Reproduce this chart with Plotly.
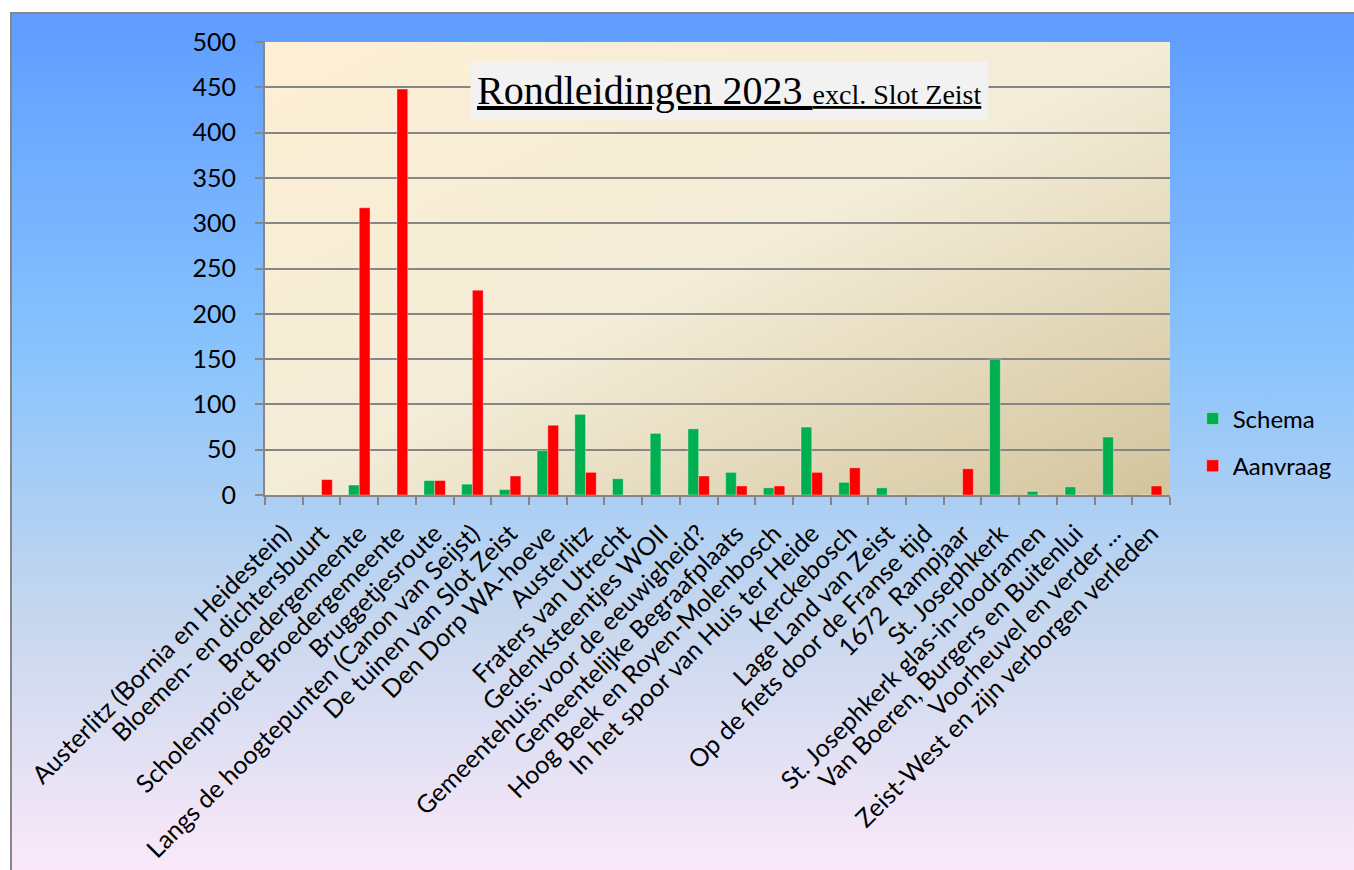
import base64
import plotly.graph_objects as go

categories = [
    "Austerlitz (Bornia en Heidestein)",
    "Bloemen- en dichtersbuurt",
    "Broedergemeente",
    "Scholenproject Broedergemeente",
    "Bruggetjesroute",
    "Langs de hoogtepunten (Canon van Seijst)",
    "De tuinen van Slot Zeist",
    "Den Dorp WA-hoeve",
    "Austerlitz",
    "Fraters van Utrecht",
    "Gedenksteentjes WOII",
    "Gemeentehuis: voor de eeuwigheid?",
    "Gemeentelijke Begraafplaats",
    "Hoog Beek en Royen-Molenbosch",
    "In het spoor van Huis ter Heide",
    "Kerckebosch",
    "Lage Land van Zeist",
    "Op de fiets door de Franse tijd",
    "1672  Rampjaar",
    "St. Josephkerk",
    "St. Josephkerk glas-in-loodramen",
    "Van Boeren, Burgers en Buitenlui",
    "Voorheuvel en verder ...",
    "Zeist-West en zijn verborgen verleden",
]
schema = [0, 0, 11, 0, 16, 12, 6, 49, 89, 18, 68, 73, 25, 8, 75, 14, 8, 0, 0, 150, 4, 9, 64, 0]
aanvraag = [0, 17, 317, 448, 16, 226, 21, 77, 25, 0, 0, 21, 10, 10, 25, 30, 0, 0, 29, 0, 0, 0, 0, 10]
y_ticks = [0, 50, 100, 150, 200, 250, 300, 350, 400, 450, 500]

W, H = 1354, 870
PW, PH = 905, 453
ML, MT = 265, 42
MR, MB = W - ML - PW, H - MT - PH

def svg_uri(svg):
    return "data:image/svg+xml;base64," + base64.b64encode(svg.encode()).decode()

outer_w, outer_h = 1350, 864
outer_svg = f"""<svg xmlns='http://www.w3.org/2000/svg' width='{outer_w}' height='{outer_h}' viewBox='0 0 {outer_w} {outer_h}' preserveAspectRatio='none'>
<defs><linearGradient id='g' x1='0' y1='0' x2='0' y2='1'>
<stop offset='0' stop-color='#5E9CFF'/>
<stop offset='0.39' stop-color='#88C3FD'/>
<stop offset='0.70' stop-color='#C6D7EE'/>
<stop offset='1' stop-color='#FCE9F9'/>
</linearGradient></defs>
<rect x='0' y='0' width='{outer_w}' height='{outer_h}' fill='url(#g)'/>
<path d='M1,{outer_h} L1,1 L{outer_w},1' fill='none' stroke='#868686' stroke-width='2'/>
</svg>"""

plot_svg = f"""<svg xmlns='http://www.w3.org/2000/svg' width='{PW}' height='{PH}' viewBox='0 0 {PW} {PH}' preserveAspectRatio='none'>
<defs><linearGradient id='p' x1='0' y1='0' x2='1' y2='1'>
<stop offset='0' stop-color='#FDEFD4'/>
<stop offset='0.5' stop-color='#F3ECD7'/>
<stop offset='1' stop-color='#D3C49C'/>
</linearGradient></defs>
<rect x='0' y='0' width='{PW}' height='{PH}' fill='url(#p)'/>
</svg>"""

font = "Lato, 'Open Sans', sans-serif"
gray = "#868686"

fig = go.Figure()
fig.add_trace(go.Bar(x=categories, y=schema, name="Schema", marker_color="#00B050",
                     marker_line=dict(color="rgba(255,255,255,0.35)", width=1), legendgroup="a"))
fig.add_trace(go.Bar(x=categories, y=aanvraag, name="Aanvraag", marker_color="#FF0000",
                     marker_line=dict(color="rgba(255,255,255,0.35)", width=1), legendgroup="b"))

fig.update_layout(
    width=W, height=H,
    margin=dict(l=ML, r=MR, t=MT, b=MB, pad=0, autoexpand=False),
    paper_bgcolor="white",
    plot_bgcolor="rgba(0,0,0,0)",
    barmode="group", bargap=0.43, bargroupgap=0,
    font=dict(family=font, size=24, color="black"),
    showlegend=True,
    legend=dict(x=1.025, y=0.116, xanchor="left", yanchor="middle",
                bgcolor="rgba(0,0,0,0)", tracegroupgap=13,
                font=dict(family=font, size=24, color="black")),
    images=[
        dict(source=svg_uri(outer_svg), xref="paper", yref="paper",
             x=(10 - ML) / PW, y=(PH + MT - 12) / PH, sizex=outer_w / PW, sizey=outer_h / PH,
             xanchor="left", yanchor="top", sizing="stretch", layer="below"),
        dict(source=svg_uri(plot_svg), xref="paper", yref="paper",
             x=0, y=1, sizex=1, sizey=1,
             xanchor="left", yanchor="top", sizing="stretch", layer="below"),
    ],
    annotations=[dict(
        text="<u>Rondleidingen 2023 <span style='font-size:28px'>excl. Slot Zeist</span></u>",
        xref="paper", yref="paper", x=(729.5 - ML) / PW, y=(PH + MT - 90) / PH,
        xanchor="center", yanchor="middle", showarrow=False,
        font=dict(family="'Liberation Serif', 'DejaVu Serif', serif", size=40, color="black"),
        bgcolor="#F2F2F2", borderpad=6,
    )],
)
fig.update_xaxes(type="category", tickangle=-45, showline=True, linecolor=gray, linewidth=2,
                 ticks="outside", ticklen=8, tickcolor=gray, tickwidth=2, tickson="boundaries",
                 showgrid=False, zeroline=False, ticklabelstandoff=12, automargin=False,
                 tickfont=dict(family=font, size=25, color="black"))
fig.update_yaxes(range=[0, 500], tickvals=y_ticks, showline=True, linecolor=gray, linewidth=2,
                 ticks="outside", ticklen=8, tickcolor=gray, tickwidth=2,
                 showgrid=True, gridcolor=gray, gridwidth=2, zeroline=False, automargin=False,
                 ticklabelstandoff=14, tickfont=dict(family=font, size=25, color="black"))

fig.write_html("out.html", config={"displayModeBar": False},
               post_script="document.body.style.margin='0';")
